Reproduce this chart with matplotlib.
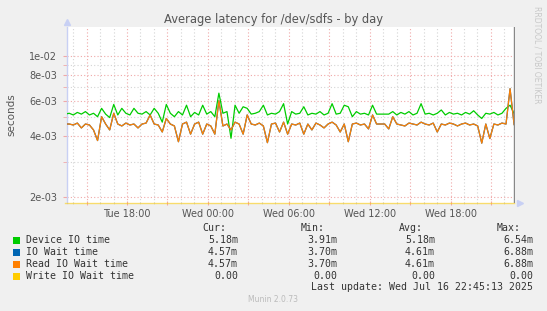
import numpy as np
import pandas as pd
import matplotlib
matplotlib.use("Agg")
import matplotlib.pyplot as plt
import matplotlib.dates as mdates
from matplotlib.ticker import FixedLocator, FixedFormatter, NullFormatter, FuncFormatter

# ---------------- data (milliseconds) ----------------
device_ms = [5.15, 5.2, 5.1, 5.25, 5.15, 5.3, 5.1, 5.2, 5.0, 5.5, 5.15, 4.95, 5.75, 5.1, 5.5, 5.2,
             5.1, 5.5, 5.2, 5.15, 5.3, 5.1, 5.5, 5.2, 4.7, 5.75, 5.2, 5.0, 5.3, 5.1, 5.7, 5.0,
             5.25, 5.1, 5.7, 5.15, 5.3, 5.0, 6.54, 5.2, 5.3, 3.91, 5.7, 5.2, 5.6, 5.5, 5.15, 5.2,
             5.3, 5.7, 5.1, 5.2, 5.15, 5.3, 5.8, 4.6, 5.3, 5.15, 5.2, 5.6, 5.1, 5.2, 5.15, 5.3,
             5.1, 5.2, 5.8, 5.15, 5.2, 5.7, 5.6, 5.0, 5.3, 5.15, 5.2, 5.1, 5.7, 5.15, 5.15, 5.15,
             5.15, 5.3, 5.1, 5.25, 5.15, 5.3, 5.1, 5.2, 5.8, 5.15, 5.2, 5.1, 5.2, 5.4, 5.1, 5.25,
             5.15, 5.2, 5.1, 5.25, 5.15, 5.35, 5.1, 4.9, 5.2, 5.15, 5.25, 5.1, 5.2, 5.5, 5.7, 5.18]
read_ms = [4.6, 4.6, 4.55, 4.65, 4.4, 4.6, 4.55, 4.3, 3.81, 5.0, 4.6, 4.3, 5.2, 4.6, 4.5, 4.65,
           4.55, 4.6, 4.4, 4.6, 4.65, 5.1, 4.6, 4.55, 4.2, 4.9, 4.6, 4.5, 3.76, 4.6, 4.7, 4.1,
           4.6, 4.7, 4.1, 4.6, 4.5, 4.1, 6.0, 4.5, 4.6, 4.3, 4.7, 4.6, 4.1, 5.1, 4.6, 4.55,
           4.65, 4.5, 3.72, 4.6, 4.65, 4.2, 4.7, 4.1, 4.6, 4.55, 4.65, 4.1, 4.6, 4.3, 4.65, 4.55,
           4.4, 4.6, 4.7, 4.55, 4.2, 4.6, 3.76, 4.6, 4.65, 4.55, 4.6, 4.35, 5.1, 4.6, 4.6, 4.6,
           4.35, 5.0, 4.6, 4.55, 4.5, 4.65, 4.6, 4.55, 4.7, 4.6, 4.55, 4.65, 4.2, 4.6, 4.55, 4.65,
           4.6, 4.5, 4.6, 4.65, 4.55, 4.6, 4.5, 3.70, 4.6, 3.9, 4.6, 4.55, 4.65, 4.6, 6.88, 4.57]
iowait_ms = list(read_ms)
write_ms = [0.0] * len(read_ms)

series_names = ["Device IO time", "IO Wait time", "Read IO Wait time", "Write IO Wait time"]
series_colors = ["#00CC00", "#0066B3", "#FF8000", "#FFCC00"]
cur_vals = ["5.18m", "4.57m", "4.57m", "0.00"]
min_vals = ["3.91m", "3.70m", "3.70m", "0.00"]
avg_vals = ["5.18m", "4.61m", "4.61m", "0.00"]
max_vals = ["6.54m", "6.88m", "6.88m", "0.00"]

ytick_vals = [2e-3, 4e-3, 6e-3, 8e-3, 1e-2]
ytick_labels = ["2e-03", "4e-03", "6e-03", "8e-03", "1e-02"]
yminor_vals = [3e-3, 5e-3, 7e-3, 9e-3]

times = pd.date_range(end="2025-07-16 22:43", periods=len(device_ms), freq="18min")

# ---------------- figure ----------------
W, H = 547, 311
fig = plt.figure(figsize=(W / 100, H / 100), dpi=100, facecolor="#f0f0f0")
ax = fig.add_axes([67 / W, 1 - 203 / H, 448 / W, 176 / H], facecolor="white")

ymin, ymax = 1.87e-3, 1.39e-2
ax.set_yscale("log")
ax.set_ylim(ymin, ymax)
ax.set_xlim(pd.Timestamp("2025-07-15 13:33"), pd.Timestamp("2025-07-16 22:47"))

s = 1e-3
ax.plot(times, np.array(device_ms) * s, color=series_colors[0], lw=0.9, zorder=3)
ax.plot(times, np.array(iowait_ms) * s, color=series_colors[1], lw=0.9, zorder=3)
ax.plot(times, np.array(read_ms) * s, color=series_colors[2], lw=0.9, zorder=4)
ax.plot(times, np.clip(np.array(write_ms) * s, ymin, None), color=series_colors[3],
        lw=1.0, alpha=0.55, zorder=5, clip_on=False)

ax.axvline(times[-1], color="#888888", lw=1.0, zorder=6)

# grids
ax.yaxis.set_major_locator(FixedLocator(ytick_vals))
ax.yaxis.set_major_formatter(FixedFormatter(ytick_labels))
ax.yaxis.set_minor_locator(FixedLocator(yminor_vals))
ax.yaxis.set_minor_formatter(NullFormatter())
ax.xaxis.set_major_locator(mdates.HourLocator(byhour=range(0, 24, 3)))
ax.xaxis.set_minor_locator(mdates.HourLocator())

def xfmt(v, pos):
    d = mdates.num2date(v)
    return d.strftime("%a %H:%M") if d.hour % 6 == 0 else ""
ax.xaxis.set_major_formatter(FuncFormatter(xfmt))

ax.grid(which="major", color="#f0a8a8", linestyle=(0, (1, 2)), lw=0.8, zorder=1)
ax.grid(which="minor", color="#d4d4d4", linestyle=(0, (1, 2)), lw=0.8, zorder=1)

ax.tick_params(axis="both", which="both", labelsize=7, labelcolor="#555555")
ax.tick_params(axis="y", which="both", length=3, color="#f0a8a8", pad=4)
ax.tick_params(axis="x", which="major", length=3, direction="inout", color="#f0a8a8", pad=3)
ax.tick_params(axis="x", which="minor", length=2, direction="inout", color="#d4d4d4")

for sp in ["top", "right", "bottom"]:
    ax.spines[sp].set_visible(False)
ax.spines["left"].set_color("#c8d0f4")
ax.spines["left"].set_linewidth(1.0)

ax.plot([0], [1.03], marker="^", color="#c8d0f4", markersize=5, transform=ax.transAxes, clip_on=False)
ax.plot([1.012], [0], marker=">", color="#c8d0f4", markersize=5, transform=ax.transAxes, clip_on=False)

# texts
fig.text(273 / W, 1 - 19 / H, "Average latency for /dev/sdfs - by day", ha="center", va="center",
         fontsize=8.3, color="#555555")
fig.text(11 / W, 1 - 115 / H, "seconds", rotation=90, ha="center", va="center", fontsize=7.5, color="#555555")
fig.text(537 / W, 1 - 6 / H, "RRDTOOL / TOBI OETIKER", rotation=270, ha="center", va="top",
         fontsize=5.5, color="#c8c8c8")

mono = "DejaVu Sans Mono"
fs = 7.1
tc = "#333333"
hy = 1 - 228 / H
for label, x in [("Cur:", 202), ("Min:", 301), ("Avg:", 399), ("Max:", 497)]:
    fig.text(x / W, hy, label, ha="left", va="center", family=mono, fontsize=fs, color=tc)
rows_y = [240, 252, 264, 276]
for i, name in enumerate(series_names):
    y = 1 - rows_y[i] / H
    fig.patches.append(plt.Rectangle(((13) / W, y - 3.5 / H), 7 / W, 7 / H, transform=fig.transFigure,
                                     facecolor=series_colors[i], edgecolor="none"))
    fig.text(26 / W, y, name, ha="left", va="center", family=mono, fontsize=fs, color=tc)
    for vals, xr in [(cur_vals, 238), (min_vals, 337), (avg_vals, 435), (max_vals, 533)]:
        fig.text(xr / W, y, vals[i], ha="right", va="center", family=mono, fontsize=fs, color=tc)
fig.text(533 / W, 1 - 287 / H, "Last update: Wed Jul 16 22:45:13 2025", ha="right", va="center",
         family=mono, fontsize=fs, color=tc)
fig.text(273 / W, 1 - 300 / H, "Munin 2.0.73", ha="center", va="center", fontsize=5.5, color="#bbbbbb")

fig.savefig("out.png", dpi=100, facecolor=fig.get_facecolor())
